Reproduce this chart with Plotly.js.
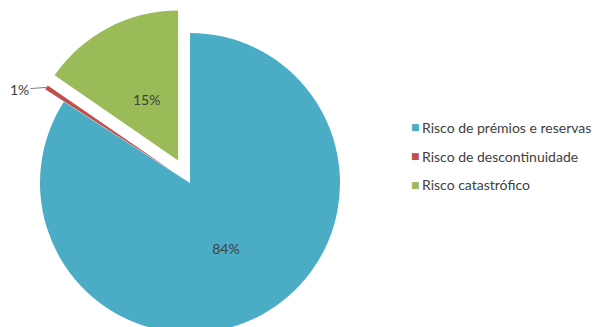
<!DOCTYPE html>
<html><head><meta charset="utf-8">
<script src="https://cdn.plot.ly/plotly-3.0.1.min.js"></script>
<style>html,body{margin:0;padding:0;overflow:hidden;background:#fff}#chart{width:595px;height:360px}</style>
</head><body><div id="chart"></div>
<script>
const categories = ["Risco de prémios e reservas", "Risco de descontinuidade", "Risco catastrófico"];
const values = [84.1, 0.5, 15.4];
const colors = ["#4BACC6", "#C0504D", "#9BBB59"];
const pulls = [0, 0.15, 0.17];

const total = values.reduce((a, b) => a + b, 0);
const pctLabels = values.map(v => Math.round(v / total * 100) + '%');
const insideText = pctLabels.map((t, i) => i === 0 ? t : '');

const W = 595, H = 360;
const cx = 190, cy = 183, r = 150;
const maxPull = Math.max(...pulls);
const half = r * (1 + maxPull);
const domain = {x: [(cx - half) / W, (cx + half) / W], y: [1 - (cy + half) / H, 1 - (cy - half) / H]};

const FONT = 'Lato, "Open Sans", sans-serif';
const TXT = '#404040';
const FS = 14;

const trace = {
  type: 'pie',
  labels: categories,
  values: values,
  sort: false,
  direction: 'clockwise',
  rotation: 0,
  pull: pulls,
  marker: {colors: colors, line: {width: 0}},
  text: insideText,
  textinfo: 'text',
  textposition: 'inside',
  insidetextorientation: 'horizontal',
  insidetextfont: {family: FONT, size: FS, color: TXT},
  domain: domain,
  showlegend: false,
  hoverinfo: 'label+percent'
};

// slice geometry helpers (angles clockwise from 12 o'clock)
const starts = [];
let acc = 0;
values.forEach(v => { starts.push(acc); acc += v; });
function midAngle(i) { return (starts[i] + values[i] / 2) / total * 2 * Math.PI; }
function pointAt(i, frac) {
  const a = midAngle(i);
  const d = r * (pulls[i] + frac);
  return [cx + Math.sin(a) * d, cy - Math.cos(a) * d];
}

const annotations = [];

// label inside the green slice
const g = pointAt(2, 0.46);
annotations.push({
  x: g[0] / W, y: 1 - g[1] / H, xref: 'paper', yref: 'paper',
  text: pctLabels[2], showarrow: false, xanchor: 'center', yanchor: 'middle',
  font: {family: FONT, size: FS, color: TXT}
});

// leader label for the small slice
const t = pointAt(1, 1);
annotations.push({
  x: t[0] / W, y: 1 - t[1] / H, xref: 'paper', yref: 'paper',
  text: pctLabels[1], showarrow: true, arrowhead: 0, arrowwidth: 1, arrowcolor: '#7F7F7F',
  ax: -27, ay: 2, standoff: 0,
  font: {family: FONT, size: FS, color: TXT}
});

// legend
const legX = 412, legY0 = 127, legDY = 29;
categories.forEach((c, i) => {
  annotations.push({
    x: (legX + 3) / W, y: 1 - (legY0 + i * legDY) / H, xref: 'paper', yref: 'paper',
    text: '■', showarrow: false, xanchor: 'center', yanchor: 'middle',
    font: {family: 'DejaVu Sans', size: 9, color: colors[i]}
  });
  annotations.push({
    x: (legX + 8) / W, y: 1 - (legY0 + i * legDY) / H, xref: 'paper', yref: 'paper',
    text: c, showarrow: false, xanchor: 'left', yanchor: 'middle',
    font: {family: FONT, size: FS, color: TXT}
  });
});

Plotly.newPlot('chart', [trace], {
  width: W, height: H,
  margin: {l: 0, r: 0, t: 0, b: 0},
  paper_bgcolor: '#fff',
  showlegend: false,
  annotations: annotations
}, {displayModeBar: false, staticPlot: true});
</script>
</body></html>
